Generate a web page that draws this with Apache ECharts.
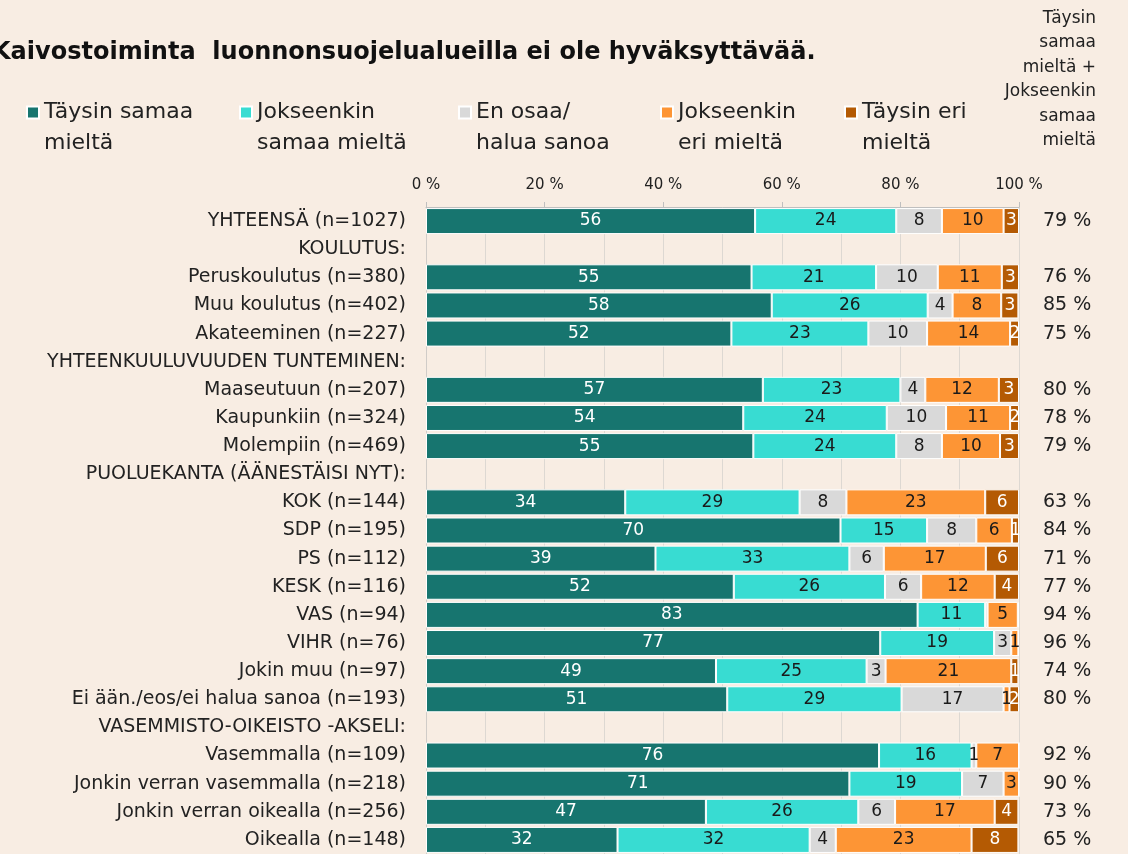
<!DOCTYPE html>
<html>
<head>
<meta charset="utf-8">
<title>Kaivostoiminta luonnonsuojelualueilla</title>
<script src="https://cdn.jsdelivr.net/npm/echarts@6/dist/echarts.min.js"></script>
<style>
  html, body { margin: 0; padding: 0; background: #f8ede3; }
  #chart { width: 1128px; height: 854px; }
</style>
</head>
<body>
<div id="chart"></div>
<script>
const FONT = '"DejaVu Sans", sans-serif';

const categories = [
  'YHTEENSÄ (n=1027)', 'KOULUTUS:', 'Peruskoulutus (n=380)', 'Muu koulutus (n=402)',
  'Akateeminen (n=227)', 'YHTEENKUULUVUUDEN TUNTEMINEN:', 'Maaseutuun (n=207)',
  'Kaupunkiin (n=324)', 'Molempiin (n=469)', 'PUOLUEKANTA (ÄÄNESTÄISI NYT):',
  'KOK (n=144)', 'SDP (n=195)', 'PS (n=112)', 'KESK (n=116)', 'VAS (n=94)', 'VIHR (n=76)',
  'Jokin muu (n=97)', 'Ei ään./eos/ei halua sanoa (n=193)', 'VASEMMISTO-OIKEISTO -AKSELI:',
  'Vasemmalla (n=109)', 'Jonkin verran vasemmalla (n=218)', 'Jonkin verran oikealla (n=256)',
  'Oikealla (n=148)'
];

// shares in %, '-' = section heading row (no bar)
const taysinSamaa     = [55.5, '-', 54.9, 58.3, 51.5, '-', 56.8, 53.5, 55.2, '-', 33.6, 69.9, 38.7, 51.9, 82.9, 76.6, 48.9, 50.8, '-', 76.4, 71.4, 47.2, 32.3];
const jokseenkinSamaa = [23.8, '-', 21.0, 26.3, 23.1, '-', 23.2, 24.2, 24.1, '-', 29.4, 14.6, 32.7, 25.5, 11.4, 19.2, 25.4, 29.4, '-', 15.6, 19.0, 25.7, 32.4];
const enOsaa          = [7.7, '-', 10.4, 4.2, 9.9, '-', 4.2, 10.0, 7.7, '-', 7.9, 8.3, 5.8, 6.1, 0.4, 2.9, 3.2, 17.2, '-', 0.8, 7.0, 6.2, 4.4];
const jokseenkinEri   = [10.4, '-', 10.8, 8.2, 14.0, '-', 12.4, 10.8, 9.8, '-', 23.4, 6.0, 17.2, 12.4, 5.1, 1.2, 21.2, 1.0, '-', 7.2, 2.6, 16.8, 22.9];
const taysinEri       = [2.6, '-', 2.9, 2.9, 1.5, '-', 3.4, 1.5, 3.2, '-', 5.7, 1.2, 5.6, 4.1, 0.2, 0, 1.2, 1.6, '-', 0, 0, 4.0, 7.9];

// "Täysin samaa mieltä + Jokseenkin samaa mieltä" column
const agreeTotals = ['79 %', '', '76 %', '85 %', '75 %', '', '80 %', '78 %', '79 %', '', '63 %', '84 %', '71 %', '77 %', '94 %', '96 %', '74 %', '80 %', '', '92 %', '90 %', '73 %', '65 %'];

const seriesNames = ['Täysin samaa\nmieltä', 'Jokseenkin\nsamaa mieltä', 'En osaa/\nhalua sanoa', 'Jokseenkin\neri mieltä', 'Täysin eri\nmieltä'];
const seriesData = [taysinSamaa, jokseenkinSamaa, enOsaa, jokseenkinEri, taysinEri];
const colors = ['#17756f', '#38dcd2', '#d9d9d9', '#fd9535', '#b45a03'];
const labelColors = ['#ffffff', '#1a1a1a', '#1a1a1a', '#1a1a1a', '#ffffff'];
const legendLeft = [26, 239, 458, 660, 844];

const chart = echarts.init(document.getElementById('chart'));

const option = {
  backgroundColor: '#f8ede3',
  animation: false,
  textStyle: { fontFamily: FONT },
  title: {
    text: 'Kaivostoiminta  luonnonsuojelualueilla ei ole hyväksyttävää.',
    left: -8,
    top: 41,
    padding: 0,
    textStyle: { fontSize: 24, fontWeight: 'bold', color: '#111', fontFamily: FONT }
  },
  // one legend per item so each sits where it does in the original;
  // leading blank line keeps the marker level with the first text line
  legend: seriesNames.map((name, i) => ({
    data: [name],
    left: legendLeft[i],
    top: 66,
    padding: 0,
    icon: 'rect',
    itemWidth: 12,
    itemHeight: 12,
    selectedMode: false,
    formatter: n => '\n' + n,
    textStyle: { fontSize: 22, lineHeight: 31, color: '#222', fontFamily: FONT }
  })),
  graphic: [{
    type: 'text',
    x: 1096,
    y: 6,
    style: {
      text: 'Täysin\nsamaa\nmieltä +\nJokseenkin\nsamaa\nmieltä',
      align: 'right',
      verticalAlign: 'top',
      fontSize: 17,
      lineHeight: 24.5,
      fontFamily: FONT,
      fill: '#222'
    }
  }],
  grid: { left: 426, top: 207, width: 593, height: 650 },
  xAxis: {
    type: 'value',
    position: 'top',
    min: 0,
    max: 100,
    interval: 20,
    axisLine: { show: true, lineStyle: { color: '#bfbfbf' } },
    axisTick: { show: true, length: 5, lineStyle: { color: '#bfbfbf' } },
    axisLabel: { formatter: '{value} %', fontSize: 15, color: '#222', margin: 14 },
    splitLine: { show: true, lineStyle: { color: '#ddd8d2' } },
    minorTick: { show: false, splitNumber: 2 },
    minorSplitLine: { show: true, lineStyle: { color: '#ddd8d2' } }
  },
  yAxis: [{
    type: 'category',
    inverse: true,
    data: categories,
    axisLine: { show: true, lineStyle: { color: '#d0ccc8' } },
    axisTick: { show: false },
    axisLabel: { interval: 0, fontSize: 19, color: '#222', margin: 20 }
  }, {
    type: 'category',
    inverse: true,
    position: 'right',
    data: categories,
    axisLine: { show: false },
    axisTick: { show: false },
    axisLabel: {
      interval: 0, fontSize: 19, color: '#222', margin: 24, align: 'left',
      formatter: (v, idx) => agreeTotals[idx]
    }
  }],
  series: seriesNames.map((name, i) => ({
    name: name,
    type: 'bar',
    stack: 'total',
    barWidth: 26,
    data: seriesData[i],
    itemStyle: { color: colors[i], borderColor: '#ffffff', borderWidth: 1 },
    label: {
      show: true,
      position: 'inside',
      color: labelColors[i],
      fontSize: 17,
      formatter: p => (p.value >= 0.6 ? String(Math.round(p.value)) : '')
    },
    emphasis: { disabled: true }
  }))
};

chart.setOption(option);
</script>
</body>
</html>
